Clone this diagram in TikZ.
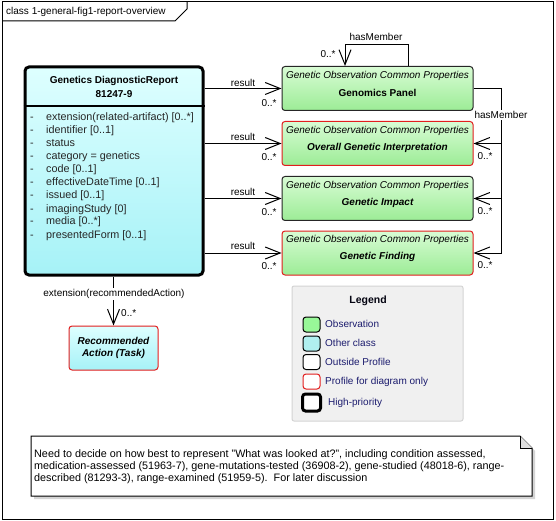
\documentclass[tikz,border=0pt]{standalone}
\usepackage{fontspec}
\setmainfont{Liberation Sans}
\usetikzlibrary{arrows.meta,positioning}
\definecolor{obstop}{RGB}{216,252,212}
\definecolor{obsbot}{RGB}{156,236,150}
\definecolor{othtop}{RGB}{222,255,255}
\definecolor{othbot}{RGB}{166,242,247}
\definecolor{profred}{RGB}{226,30,30}
\definecolor{legfill}{RGB}{240,240,240}
\definecolor{legdraw}{RGB}{212,212,212}
\definecolor{legtext}{RGB}{28,28,110}
\definecolor{notefold}{RGB}{222,222,222}
\begin{document}
\begin{tikzpicture}[x=1pt,y=-1pt,
  every node/.style={font=\fontsize{10}{13}\selectfont, inner sep=0pt},
  obsbox/.style={draw=black!85, line width=1pt, rounded corners=3pt, minimum width=191pt, minimum height=44pt, top color=obstop, bottom color=obsbot},
  othbox/.style={draw=black, line width=3pt, rounded corners=4pt, minimum width=178pt, minimum height=208pt, top color=othtop, bottom color=othbot},
  attr/.style={anchor=base west, text=black!85, font=\fontsize{10.8}{13}\selectfont},
  assoc/.style={-{Straight Barb[length=15pt,width=12pt,line width=1pt]}, line width=1pt},
  lbl/.style={fill=white, inner sep=1pt},
  swatch/.style={draw=black, line width=1pt, rounded corners=3pt, minimum width=17pt, minimum height=15pt},
  legitem/.style={anchor=west, text=legtext}]
\useasboundingbox (0,0) rectangle (556,521);
\fill[white] (0,0) rectangle (556,521);
\draw[line width=1pt] (2,2) rectangle (553,519);
\draw[line width=1pt] (2,21) -- (175,21) -- (187,9) -- (187,2);
\node[anchor=base west] (frametitle) at (6,15) {class 1-general-fig1-report-overview};

\node[othbox] (report) at (114,171) {};
\draw[line width=2.5pt] (report.west |- 0,106) -- (report.east |- 0,106);
\node[font=\fontsize{10}{13}\selectfont\bfseries] (reporttitle) at (114,81) {Genetics DiagnosticReport};
\node[font=\fontsize{10}{13}\selectfont\bfseries] (reportcode) at (114,94) {81247-9};
\node[attr] (d0) at (30,121) {-};
\node[attr] (a0) at (46,121) {extension(related-artifact) [0..*]};
\node[attr] (d1) at (30,134) {-};
\node[attr] (a1) at (46,134) {identifier [0..1]};
\node[attr] (d2) at (30,147) {-};
\node[attr] (a2) at (46,147) {status};
\node[attr] (d3) at (30,160) {-};
\node[attr] (a3) at (46,160) {category = genetics};
\node[attr] (d4) at (30,173) {-};
\node[attr] (a4) at (46,173) {code [0..1]};
\node[attr] (d5) at (30,186) {-};
\node[attr] (a5) at (46,186) {effectiveDateTime [0..1]};
\node[attr] (d6) at (30,199) {-};
\node[attr] (a6) at (46,199) {issued [0..1]};
\node[attr] (d7) at (30,212) {-};
\node[attr] (a7) at (46,212) {imagingStudy [0]};
\node[attr] (d8) at (30,225) {-};
\node[attr] (a8) at (46,225) {media [0..*]};
\node[attr] (d9) at (30,238) {-};
\node[attr] (a9) at (46,238) {presentedForm [0..1]};

\node[obsbox] (gp) at (377.5,88.5) {};
\node[font=\fontsize{10}{13}\selectfont\itshape] (gpstereo) at (377.5,75.5) {Genetic Observation Common Properties};
\node[font=\fontsize{10}{13}\selectfont\bfseries] (gpname) at (377.5,92.5) {Genomics Panel};
\node[obsbox, draw=profred] (oi) at (377.5,143.5) {};
\node[font=\fontsize{10}{13}\selectfont\itshape] (oistereo) at (377.5,130.5) {Genetic Observation Common Properties};
\node[font=\fontsize{10}{13}\selectfont\bfseries\itshape] (oiname) at (377.5,147.5) {Overall Genetic Interpretation};
\node[obsbox] (gi) at (377.5,198.5) {};
\node[font=\fontsize{10}{13}\selectfont\itshape] (gistereo) at (377.5,185.5) {Genetic Observation Common Properties};
\node[font=\fontsize{10}{13}\selectfont\bfseries\itshape] (giname) at (377.5,202.5) {Genetic Impact};
\node[obsbox, draw=profred] (gf) at (377.5,253) {};
\node[font=\fontsize{10}{13}\selectfont\itshape] (gfstereo) at (377.5,240) {Genetic Observation Common Properties};
\node[font=\fontsize{10}{13}\selectfont\bfseries\itshape] (gfname) at (377.5,257) {Genetic Finding};

\draw[assoc] (report.east |- gp.west) -- (gp.west);
\draw[assoc] (report.east |- oi.west) -- (oi.west);
\draw[assoc] (report.east |- gi.west) -- (gi.west);
\draw[assoc] (report.east |- gf.west) -- (gf.west);
\node (r0) at (243,83) {result};
\node (r1) at (243,137) {result};
\node (r2) at (243,192) {result};
\node (r3) at (243,246) {result};
\node (m0) at (269,103) {0..*};
\node (m1) at (269,157) {0..*};
\node (m2) at (269,212) {0..*};
\node (m3) at (269,266) {0..*};

\draw[assoc] ([xshift=30.5pt]gp.north) -- ++(0,-21) -| ([xshift=-32.5pt]gp.north);
\node (loopname) at (376,37) {hasMember};
\node (loopmult) at (328,54) {0..*};

\coordinate (hmbus) at (501,88.5);
\draw[assoc] (gp.east) -| (hmbus |- gf.east) -- (gf.east);
\draw[assoc] (hmbus |- oi.east) -- (oi.east);
\draw[assoc] (hmbus |- gi.east) -- (gi.east);
\node[lbl] (hmname) at (501,115) {hasMember};
\node (hm1) at (485,156) {0..*};
\node (hm2) at (485,211) {0..*};
\node (hm3) at (485,265) {0..*};

\node[othbox, draw=profred, line width=1pt, rounded corners=3pt, minimum width=89pt, minimum height=44pt, align=center, font=\fontsize{10}{12.5}\selectfont\bfseries\itshape] (rec) at (113.5,348) {Recommended\\Action (Task)};
\draw[assoc] (rec.north |- report.south) -- (rec.north);
\node[lbl] (extname) at (114,294) {extension(recommendedAction)};
\node[anchor=west] (extmult) at (121,313) {0..*};

\node[draw=legdraw, fill=legfill, line width=1pt, rounded corners=2pt, minimum width=171pt, minimum height=135pt] (legend) at (377.5,353.5) {};
\node[font=\fontsize{10.5}{13}\selectfont\bfseries, text=black!85!legtext] (legtitle) at (368,301) {Legend};
\node[swatch, fill={rgb,255:red,152;green,248;blue,152}] (s0) at (311.5,324.5) {};
\node[swatch, fill={rgb,255:red,176;green,240;blue,240}] (s1) at (311.5,343.5) {};
\node[swatch, fill=white] (s2) at (311.5,362) {};
\node[swatch, fill=white, draw=profred] (s3) at (311.5,381.5) {};
\node[swatch, fill=white, line width=3pt, minimum width=18pt, minimum height=17pt] (s4) at (311.5,402.5) {};
\node[legitem] (l0) at (325,324) {Observation};
\node[legitem] (l1) at (325,343) {Other class};
\node[legitem] (l2) at (325,362) {Outside Profile};
\node[legitem] (l3) at (325,381.5) {Profile for diagram only};
\node[legitem] (l4) at (328,402.5) {High-priority};

\fill[legdraw] (34,439) -- (523,439) -- (535,451) -- (535,499) -- (34,499) -- cycle;
\draw[line width=1pt, fill=white] (31,436) -- (520,436) -- (532,448) -- (532,496) -- (31,496) -- cycle;
\draw[line width=1pt, fill=notefold] (520,436) -- (520,448) -- (532,448);
\node[anchor=north west, align=left, font=\fontsize{10.8}{12}\selectfont] (note) at (34,449) {Need to decide on how best to represent "What was looked at?", including condition assessed,\\medication-assessed (51963-7), gene-mutations-tested (36908-2), gene-studied (48018-6), range-\\described (81293-3), range-examined (51959-5).\ \ For later discussion};
\end{tikzpicture}
\end{document}
